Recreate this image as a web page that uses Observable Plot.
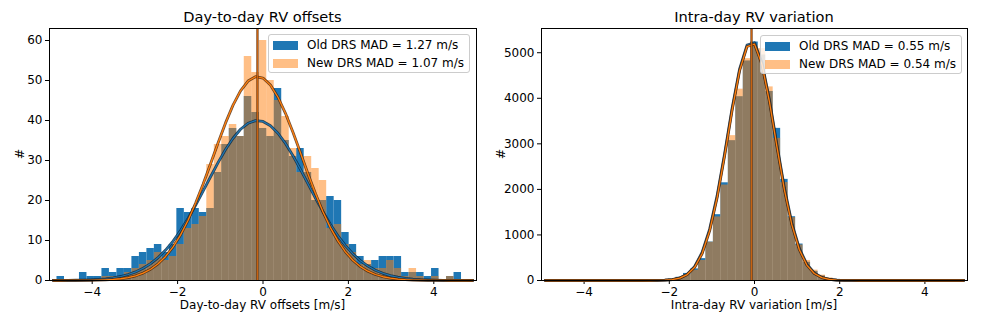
<!DOCTYPE html>
<html><head><meta charset="utf-8">
<script src="https://cdn.jsdelivr.net/npm/d3@7"></script>
<script src="https://cdn.jsdelivr.net/npm/@observablehq/plot@0.6"></script>
<style>
body{margin:0;background:#fff;font-family:"DejaVu Sans",sans-serif;color:#000;}
#wrap{position:relative;width:981px;height:327px;overflow:hidden;}
.panel{position:absolute;top:0;}
.title{position:absolute;top:8px;font-size:14.6px;line-height:18px;text-align:center;white-space:nowrap;}
.xlab{position:absolute;top:297px;font-size:12px;line-height:16px;text-align:center;white-space:nowrap;}
.ylab{position:absolute;font-size:12.5px;line-height:14px;transform:rotate(-90deg);transform-origin:center;white-space:nowrap;}
.legend{position:absolute;background:rgba(255,255,255,0.8);border:1px solid #cccccc;border-radius:3px;box-sizing:border-box;}
.sw{position:absolute;width:25px;height:8.5px;}
.lt{position:absolute;font-size:12px;line-height:14px;white-space:nowrap;}
</style></head><body><div id="wrap"></div>
<script>
// ---- data ----
const xMin = -5, xMax = 5, binCount = 57;
const xTicks = [-4, -2, 0, 2, 4];

const titles = ["Day-to-day RV offsets", "Intra-day RV variation"];
const xLabels = ["Day-to-day RV offsets [m/s]", "Intra-day RV variation [m/s]"];
const yLabel = "#";
const leftLegend = ["Old DRS MAD = 1.27 m/s", "New DRS MAD = 1.07 m/s"];
const rightLegend = ["Old DRS MAD = 0.55 m/s", "New DRS MAD = 0.54 m/s"];

const leftYTicks = [0, 10, 20, 30, 40, 50, 60];
const rightYTicks = [0, 1000, 2000, 3000, 4000, 5000];

// histogram counts per bin (57 bins from -5 to 5)
const leftOld = [0,1,0,0,2,1,1,3,2,3,3,6,7,8,9,7,9,18,17,18,17,18,27,34,38,36,46,42,38,36,48,35,31,33,27,20,20,21,20,12,9,6,4,5,6,6,6,2,2,2,1,3,0,1,2,0,0];
const leftNew = [0,0,0,0,0,0,0,1,1,1,2,3,4,5,7,5,6,9,13,14,16,29,34,36,39,36,56,52,60,50,45,41,33,27,31,28,25,13,14,9,7,4,5,3,3,5,3,1,3,1,0,1,0,1,0,0,0];
// fitted curves read at bin centres
const leftOldFit = [0.01,0.02,0.03,0.06,0.10,0.17,0.27,0.43,0.66,1.00,1.49,2.15,3.05,4.22,5.73,7.60,9.86,12.50,15.52,18.82,22.33,25.94,29.46,32.74,35.56,37.81,39.30,39.97,39.76,38.68,36.81,34.27,31.20,27.79,24.20,20.63,17.20,14.01,11.18,8.72,6.65,4.96,3.62,2.58,1.80,1.23,0.82,0.54,0.35,0.21,0.13,0.08,0.05,0.03,0.01,0.01,0.00];
const leftNewFit = [0,0,0.01,0.01,0.02,0.04,0.08,0.15,0.26,0.44,0.74,1.18,1.86,2.82,4.18,6.01,8.41,11.40,15.07,19.32,24.08,29.21,34.39,39.40,43.85,47.43,49.86,50.95,50.60,48.85,45.82,41.80,37.04,31.92,26.71,21.75,17.21,13.22,9.89,7.17,5.07,3.47,2.32,1.50,0.94,0.58,0.34,0.20,0.11,0.06,0.03,0.02,0.01,0,0,0,0];
const leftMean = -0.13;

const rightOld = [0,0,0,0,0,0,0,0,0,0,0,0,0,2,4,8,18,30,70,155,255,480,845,1445,2145,3070,4035,4820,5235,4950,4150,3340,2220,1400,800,400,200,100,45,25,10,5,3,2,1,0,0,0,0,0,0,0,0,0,0,0,0];
const rightNew = [0,0,0,0,0,0,0,0,0,0,0,0,0,1,3,6,12,25,55,130,225,440,840,1395,2095,3180,4200,4870,5150,5090,4250,3120,2150,1380,780,440,227,117,55,20,8,4,2,1,0,0,0,0,0,0,0,0,0,0,0,0,0];
const rightOldFit = [0,0,0,0,0,0,0,0,0,0,0,0,0.03,0.15,0.6,2.2,7.1,21.2,57.2,139.6,309,620,1128,1863,2785,3776,4637,5168,5219,4779,3966,2986,2033,1259,704,358,165,69,26.1,8.9,2.8,0.8,0.2,0,0,0,0,0,0,0,0,0,0,0,0,0,0];
const rightNewFit = [0,0,0,0,0,0,0,0,0,0,0,0,0.03,0.12,0.5,1.9,6.3,19.0,52.4,129.9,291.8,593,1090,1817,2736,3731,4601,5136,5189,4743,3922,2938,1988,1220,675,339,154,63,23.6,7.9,2.4,0.7,0.2,0,0,0,0,0,0,0,0,0,0,0,0,0,0];
const rightMean = -0.07;

// ---- build ----
const edges = d3.range(binCount + 1).map(i => xMin + i * (xMax - xMin) / binCount);
const rows = vals => vals.map((v, i) => ({x1: edges[i], x2: edges[i + 1], xc: (edges[i] + edges[i + 1]) / 2, v}));
const fmt = d => (d < 0 ? "\u2212" + Math.abs(d) : String(d));
const BLUE = "#1f77b4", ORANGE = "#ff7f0e";

function panel({old, neu, oldFit, neuFit, mean, yMax, yTicks, width, marginLeft}) {
  return Plot.plot({
    width, height: 327, marginLeft, marginRight: 14, marginTop: 28, marginBottom: 47,
    style: {fontFamily: "'DejaVu Sans', sans-serif", fontSize: "12px", background: "transparent", color: "#000", overflow: "visible"},
    x: {domain: [xMin, xMax], ticks: xTicks, tickFormat: fmt, tickSize: 4, tickPadding: 3, label: null},
    y: {domain: [0, yMax], ticks: yTicks, tickFormat: fmt, tickSize: 4, tickPadding: 3, label: null},
    marks: [
      Plot.rectY(rows(old), {x1: "x1", x2: "x2", y: "v", fill: BLUE}),
      Plot.rectY(rows(neu), {x1: "x1", x2: "x2", y: "v", fill: ORANGE, fillOpacity: 0.5}),
      Plot.line(rows(oldFit), {x: "xc", y: "v", stroke: "#0a2a45", strokeWidth: 2.8, strokeOpacity: 0.85}),
      Plot.line(rows(oldFit), {x: "xc", y: "v", stroke: BLUE, strokeWidth: 1.2}),
      Plot.line(rows(neuFit), {x: "xc", y: "v", stroke: "#4a2000", strokeWidth: 2.8, strokeOpacity: 0.8}),
      Plot.line(rows(neuFit), {x: "xc", y: "v", stroke: ORANGE, strokeWidth: 1.3}),
      Plot.ruleX([mean], {stroke: "#5a2a05", strokeWidth: 2.6, strokeOpacity: 0.7}),
      Plot.ruleX([mean], {stroke: "#c8620f", strokeWidth: 1.2}),
      Plot.frame({stroke: "#000", strokeWidth: 1})
    ]
  });
}

const wrap = document.getElementById("wrap");
function place(el, left) { el.classList.add("panel"); el.style.left = left + "px"; wrap.appendChild(el); }

place(panel({old: leftOld, neu: leftNew, oldFit: leftOldFit, neuFit: leftNewFit, mean: leftMean, yMax: 63, yTicks: leftYTicks, width: 490, marginLeft: 49}), 0);
place(panel({old: rightOld, neu: rightNew, oldFit: rightOldFit, neuFit: rightNewFit, mean: rightMean, yMax: 5532, yTicks: rightYTicks, width: 491, marginLeft: 51}), 490);

function addText(cls, text, css) {
  const d = document.createElement("div");
  d.className = cls; d.textContent = text; Object.assign(d.style, css); wrap.appendChild(d); return d;
}
// titles and axis labels
[[49, 476], [541, 967]].forEach(([a, b], i) => {
  addText("title", titles[i], {left: a + "px", width: (b - a) + "px"});
  addText("xlab", xLabels[i], {left: a + "px", width: (b - a) + "px"});
});
addText("ylab", yLabel, {left: "15px", top: "147px"});
addText("ylab", yLabel, {left: "496px", top: "147px"});

function legend(left, top, labels) {
  const box = document.createElement("div");
  box.className = "legend";
  Object.assign(box.style, {left: left + "px", top: top + "px", width: "202px", height: "39px"});
  [BLUE, "rgba(255,127,14,0.5)"].forEach((c, i) => {
    const sw = document.createElement("div");
    sw.className = "sw";
    Object.assign(sw.style, {left: "4px", top: (6 + i * 18) + "px", background: c});
    box.appendChild(sw);
    const t = document.createElement("div");
    t.className = "lt"; t.textContent = labels[i];
    Object.assign(t.style, {left: "38px", top: (3 + i * 18) + "px"});
    box.appendChild(t);
  });
  wrap.appendChild(box);
}
legend(268, 34, leftLegend);
legend(760, 35, rightLegend);
</script>
</body></html>
